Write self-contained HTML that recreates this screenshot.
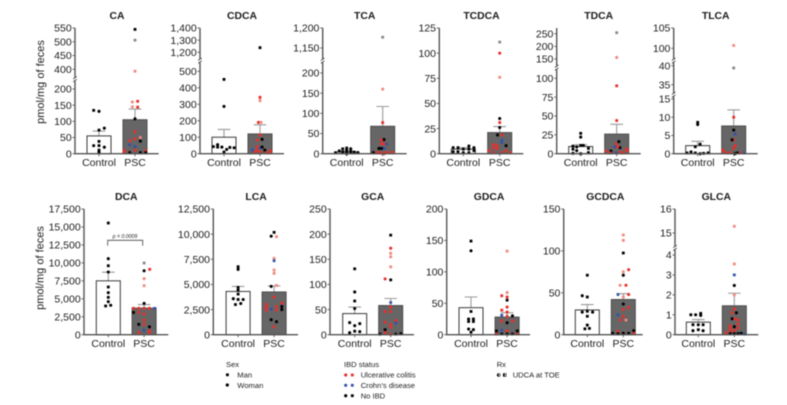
<!DOCTYPE html>
<html lang="en">
<head>
<meta charset="utf-8">
<title>Fecal bile acids by group</title>
<style>
html,body{margin:0;padding:0;background:#fff;}
svg{display:block;filter:blur(0.4px);font-family:"Liberation Sans",Arial,sans-serif;}
text{fill:#1c1c1c;}
</style>
</head>
<body>
<svg id="chart" xmlns="http://www.w3.org/2000/svg" width="787" height="405" viewBox="0 0 787 405">
  <rect x="0" y="0" width="787" height="405" fill="#fff"/>
  <text transform="translate(44,82) rotate(-90)" text-anchor="middle" font-size="11">pmol/mg of feces</text>
  <text transform="translate(43.500,268) rotate(-90)" text-anchor="middle" font-size="11">pmol/mg of feces</text>
  <g id="panels"></g>
  <g>
    <path d="M107.700 245.700V240.300H142.700V245.700" fill="none" stroke="#444" stroke-width="0.8"/>
    <text x="125" y="237.800" text-anchor="middle" font-size="5.200" font-style="italic">p = 0.0009</text>
  </g>
  <g font-size="7.600">
    <g>
      <text x="226" y="367">Sex</text>
      <rect x="226" y="373.400" width="2.800" height="2.800" fill="#000"/>
      <text x="237.300" y="377.500">Man</text>
      <circle cx="227.300" cy="385" r="1.600" fill="#000"/>
      <text x="237.300" y="388">Woman</text>
    </g>
    <g>
      <text x="344" y="367">IBD status</text>
      <circle cx="345.700" cy="375" r="1.600" fill="#e8302c"/>
      <rect x="350.900" y="373.600" width="2.800" height="2.800" fill="#e8302c"/>
      <text x="360.700" y="377.500">Ulcerative colitis</text>
      <circle cx="345.700" cy="385.300" r="1.600" fill="#3553a8"/>
      <rect x="350.900" y="383.900" width="2.800" height="2.800" fill="#3553a8"/>
      <text x="360.700" y="388">Crohn’s disease</text>
      <circle cx="345.700" cy="395.700" r="1.600" fill="#000"/>
      <rect x="350.900" y="394.300" width="2.800" height="2.800" fill="#000"/>
      <text x="360.700" y="398.500">No IBD</text>
    </g>
    <g>
      <text x="496.700" y="367">Rx</text>
      <circle cx="498.700" cy="375" r="1.500" fill="#fff" stroke="#000" stroke-width="0.6"/>
      <path d="M498.700 373.500A1.500 1.500 0 0 0 498.700 376.500Z" fill="#000"/>
      <rect x="503.300" y="373.600" width="2.800" height="2.800" fill="#fff" stroke="#000" stroke-width="0.6"/>
      <rect x="503.300" y="373.600" width="1.400" height="2.800" fill="#000"/>
      <text x="512.700" y="377.500">UDCA at TOE</text>
    </g>
  </g>
</svg>
<script>
// Categories and summary values, one entry per panel in reading order.
const panelTitles = ['CA','CDCA','TCA','TCDCA','TDCA','TLCA','DCA','LCA','GCA','GDCA','GCDCA','GLCA'];
const groupLabels = ['Control','PSC'];
const controlMeans = [55,100,4,4.5,9.5,2.2,7500,4300,42,43,29.5,0.63];
const controlErrors = [70,147,7,6,12,3.4,8700,4800,55,60,36,0.76];
const pscMeans = [105,120,68,21,26,7.6,3700,4250,58,28,42,1.45];
const pscErrors = [138,175,117,27,39,12,4200,4850,72,35,49,2.08];

// Tick labels per panel.
const caTicks = [0,50,100,150,200,400,450,500,550];
const cdcaTicks = [0,100,200,300,400,500,1200,1300,1400];
const tcaTicks = [0,50,100,150,200,1150,1200];
const tcdcaTicks = [0,25,50,75,100,125];
const tdcaTicks = [0,25,50,75,100,150,200,250];
const tlcaTicks = [0,5,10,15,35,40,100,105];
const dcaTicks = [0,2500,5000,7500,10000,12500,15000,17500];
const lcaTicks = [0,2500,5000,7500,10000,12500];
const gcaTicks = [0,50,100,150,200,250];
const gdcaTicks = [0,50,100,150,200];
const gcdcaTicks = [0,50,100,150];
const glcaTicks = [0,1,2,3,4,15,16];

// Individual samples: value, jitter slot, group kind (k/r/b solid; K/R UDCA-treated).
const caControl = [[134,-1,'k'],[131,0,'k'],[73,0,'k'],[79,1,'k'],[38,0,'k'],[25,-1,'k'],[25,0,'k'],[20,1,'k'],[11,0,'k'],[5,0,'k']];
const caPsc = [[545,0,'k'],[506,0,'K'],[393,0,'R'],[160,-.5,'R'],[162,.5,'r'],[145,-.5,'R'],[144,.5,'r'],[108,0,'k'],[68,0,'r'],[46,0,'r'],[50,1,'R'],[40,-1,'r'],[39,1,'k'],[28,-1,'b'],[22,0,'b'],[10,-2,'r'],[3,-2,'r'],[3,-1,'k'],[10,0,'r'],[3,1,'k'],[9,2,'r'],[3,2,'k']];
const cdcaControl = [[451,0,'k'],[287,0,'k'],[43,-2,'k'],[55,-1.2,'k'],[40,-1.2,'k'],[40,-.4,'k'],[10,0,'k'],[26,.5,'k'],[38,1.1,'k'],[36,1.9,'k']];
const cdcaPsc = [[1238,0,'k'],[342,0,'r'],[322,0,'R'],[190,-.3,'r'],[190,.2,'R'],[113,0,'r'],[83,-.5,'r'],[87,.4,'k'],[43,-.5,'r'],[36,0,'b'],[40,.4,'k'],[22,-1.4,'b'],[12,-.9,'r'],[22,-.5,'r'],[10,0,'r'],[22,.9,'k'],[6,1.2,'r'],[6,1.9,'r'],[18,1.9,'r']];
const tcaControl = [[2.5,-2.1,'k'],[7,-1.4,'k'],[12,-.75,'k'],[4,-.75,'k'],[14,0,'k'],[9,0,'k'],[3,0,'k'],[12,.75,'k'],[5,.75,'k'],[0,0,'k'],[4,1.4,'k'],[3,2.1,'k']];
const tcaPsc = [[1177,0,'K'],[160,0,'R'],[77,0,'r'],[35,.25,'k'],[34,-.25,'r'],[25,-.25,'r'],[24,.25,'r'],[13,-.7,'k'],[13,-.2,'k'],[24,.75,'b'],[13,.3,'b'],[2.5,-1.75,'k'],[2.5,-1.1,'r'],[2.5,-.6,'r'],[1,-.2,'r'],[2.5,.6,'r'],[2.5,1.25,'r'],[2.5,2,'r'],[0,.25,'r']];
const tcdcaControl = [[6,-1.9,'k'],[2,-1.9,'k'],[6,-1,'k'],[2,-1,'k'],[4.6,0,'k'],[1,0,'k'],[7.6,1.05,'k'],[4.6,1.05,'k'],[1,1.05,'k'],[6,2,'k'],[3,2,'k']];
const tcdcaPsc = [[111,0,'K'],[100,0,'r'],[76,0,'R'],[35,0,'k'],[31,0,'r'],[26,0,'k'],[18.6,-.4,'k'],[18.6,.4,'r'],[13.6,.4,'b'],[11,.4,'b'],[9,-1.2,'r'],[8,-.5,'r'],[6,-1.2,'r'],[5,-.5,'r'],[8,1.2,'k'],[3,-2,'r'],[1,-1.1,'r'],[1,.4,'r'],[3,1.2,'r'],[1,1.95,'r']];
const tdcaControl = [[27,0,'k'],[22,0,'k'],[10,-1.45,'k'],[6,-1.45,'k'],[.5,-1.45,'k'],[9,-.75,'k'],[11,0,'k'],[11,.5,'k'],[7,1.45,'k'],[1.5,1.45,'k'],[0,0,'k'],[4,-.75,'k']];
const tdcaPsc = [[254,0,'K'],[156,0,'R'],[90,0,'r'],[44,0,'r'],[16,.4,'k'],[13,-.1,'r'],[8,.6,'k'],[9,-.4,'b'],[9,.2,'r'],[3.5,-2,'r'],[3.5,-1.1,'k'],[1,-1.25,'r'],[1,-.1,'b'],[2,.6,'r'],[1,1.25,'r'],[6,1.75,'r'],[4,2,'r']];
const tlcaControl = [[8.6,0,'k'],[8,0,'k'],[1.9,-.45,'k'],[2.6,.45,'k'],[.2,-2,'k'],[.5,-1.25,'k'],[.2,-.45,'k'],[0,.45,'k'],[.1,1.1,'k'],[.2,1.95,'k']];
const tlcaPsc = [[100.7,0,'R'],[39.4,0,'K'],[10,0,'r'],[6.5,0,'k'],[5.4,.25,'b'],[3.8,0,'r'],[3.8,-.3,'k'],[2.2,.3,'r'],[1.5,0,'r'],[1,-2,'r'],[.3,-1.8,'r'],[.2,-1.2,'r'],[.2,-.55,'r'],[0,.25,'k'],[.2,.7,'k'],[.2,1.3,'r'],[.2,1.95,'b']];
const dcaControl = [[15550,0,'k'],[10580,0,'k'],[9600,0,'k'],[8730,0,'k'],[6640,0,'k'],[5850,0,'k'],[5200,0,'k'],[4600,0,'k'],[4000,-.5,'k'],[4100,.45,'k']];
const dcaPsc = [[9980,0,'K'],[8900,0,'k'],[9100,1.05,'r'],[7800,0,'R'],[6820,0,'R'],[4360,0,'k'],[3670,-2,'r'],[3670,-1,'r'],[3670,0,'r'],[3670,1,'r'],[3670,2,'b'],[3100,-1,'r'],[3100,-2,'k'],[2880,0,'r'],[1440,-1,'k'],[2040,0,'r'],[1440,0,'r'],[1100,1,'k'],[600,0,'b'],[550,1,'r'],[280,-1,'r'],[200,1,'r']];
const lcaControl = [[6760,0,'k'],[6500,0,'k'],[4700,0,'k'],[4440,0,'k'],[4040,0,'k'],[3580,-.9,'k'],[3500,0,'k'],[3500,.95,'k'],[3000,-.5,'k'],[3100,.5,'k']];
const lcaPsc = [[10180,0,'k'],[9800,-.55,'k'],[9750,.45,'R'],[7600,0,'R'],[7360,0,'b'],[6430,0,'R'],[6100,0,'R'],[4800,-.55,'k'],[4900,.45,'R'],[3750,0,'r'],[3000,-1.45,'r'],[2700,-1.45,'r'],[2450,-1.45,'r'],[2550,-.55,'b'],[2800,.45,'r'],[2450,.45,'r'],[3150,1.45,'r'],[2800,1.45,'k'],[2500,1.45,'k'],[1490,-.55,'k'],[1290,.45,'k'],[800,0,'r']];
const gcaControl = [[131,0,'k'],[85,0,'k'],[67,0,'k'],[52,0,'k'],[24,-.95,'k'],[18,0,'k'],[22,.95,'k'],[4,-.95,'k'],[7,0,'k'],[6,.95,'k']];
const gcaPsc = [[198,0,'k'],[172,0,'r'],[162,0,'R'],[155,0,'R'],[135,0,'R'],[111,-1.05,'r'],[109,0,'k'],[64,0,'b'],[55,0,'r'],[46,-1.05,'r'],[46,0,'r'],[25,-1.05,'r'],[28,.95,'r'],[23,.95,'b'],[20,0,'r'],[15,0,'r'],[10,-1.05,'k'],[4,-1.05,'r'],[1,-2,'k'],[1,0,'r'],[1,.95,'k'],[2,1.9,'k']];
const gdcaControl = [[149,0,'k'],[133.500,0,'k'],[37,0,'k'],[25,-.45,'k'],[25,.45,'k'],[21,-.45,'k'],[21,.45,'k'],[9,-.45,'k'],[8,.45,'k'],[4,0,'k']];
const gdcaPsc = [[133,0,'R'],[67,0,'R'],[62,-1,'r'],[60,0,'r'],[55,0,'k'],[44,0,'r'],[39,-1,'r'],[36,0,'r'],[31,-1,'b'],[30,1,'k'],[29,0,'r'],[19,0,'k'],[22,-1,'r'],[22,1,'r'],[7,-1,'b'],[6,0,'r'],[6,-2,'k'],[1,-2,'r'],[1,-1,'k'],[1,0,'k'],[1,1,'k'],[6,1.9,'k'],[1,1.9,'r']];
const gcdcaControl = [[71,0,'k'],[46.500,-.95,'k'],[45,0,'k'],[27,-.95,'k'],[22,0,'k'],[27,1,'k'],[28,0,'k'],[11.500,0,'k'],[7,-.45,'k'],[7.500,.4,'k']];
const gcdcaPsc = [[119,0,'R'],[112.600,0,'R'],[97.500,0,'k'],[77.600,1,'r'],[75,0,'R'],[71,0,'k'],[59,-.6,'R'],[59,.5,'r'],[48,-1,'b'],[48,1,'r'],[45,0,'R'],[36.600,0,'k'],[32.600,1,'r'],[30,0,'r'],[23.500,-1,'b'],[22,0,'r'],[17.500,-.5,'r'],[17.500,.5,'R'],[4,-1,'r'],[1.600,-2,'k'],[1,-1,'k'],[1.600,0,'k'],[1.600,1,'k'],[4.800,1.95,'k'],[1.600,1.95,'r']];
const glcaControl = [[1,-1.4,'k'],[1,-.5,'k'],[1.07,.45,'k'],[.97,.45,'k'],[.5,-1,'k'],[.5,0,'k'],[.5,.9,'k'],[.2,-1,'k'],[.25,0,'k'],[.2,.9,'k']];
const glcaPsc = [[15.28,0,'R'],[3.55,0,'R'],[3,0,'b'],[2.47,0,'k'],[2,0,'R'],[1.3,0,'r'],[1.1,-.4,'r'],[1.1,.4,'k'],[.8,-.4,'k'],[.8,.1,'r'],[.45,-.75,'r'],[.4,0,'k'],[.73,.7,'r'],[.53,.7,'r'],[.33,.7,'r'],[.32,-.75,'r'],[.2,-.75,'r'],[.2,0,'r'],[.1,-1.5,'r'],[.05,-.75,'k'],[.05,0,'k'],[.05,.7,'k'],[.07,1.3,'k'],[.03,1.95,'b']];

const controlPoints = [caControl,cdcaControl,tcaControl,tcdcaControl,tdcaControl,tlcaControl,dcaControl,lcaControl,gcaControl,gdcaControl,gcdcaControl,glcaControl];
const pscPoints = [caPsc,cdcaPsc,tcaPsc,tcdcaPsc,tdcaPsc,tlcaPsc,dcaPsc,lcaPsc,gcaPsc,gdcaPsc,gcdcaPsc,glcaPsc];
const panelTicks = [caTicks,cdcaTicks,tcaTicks,tcdcaTicks,tdcaTicks,tlcaTicks,dcaTicks,lcaTicks,gcaTicks,gdcaTicks,gcdcaTicks,glcaTicks];

// Layout for each panel: axis position, bar centres, and y-axis segments split by breaks.
const TOP_BASE = 153.7, BOT_BASE = 334.7, TOP_Y = 28, BOT_Y = 209;
const layouts = [
  {axis:75,  c1:99,   c2:135,   end:158.7, base:TOP_BASE, top:TOP_Y, segs:[{d:[0,200],p:[TOP_BASE,89],to:81},{d:[400,550],p:[69.3,TOP_Y],from:78}]},
  {axis:200, c1:224,  c2:260,   end:284,   base:TOP_BASE, top:TOP_Y, segs:[{d:[0,500],p:[TOP_BASE,71.3],to:62.500},{d:[1200,1400],p:[52.3,TOP_Y],from:59.500}]},
  {axis:322.7,c1:346.7,c2:382.7,end:406.7, base:TOP_BASE, top:TOP_Y, segs:[{d:[0,200],p:[TOP_BASE,73],to:62.500},{d:[1150,1200],p:[48,TOP_Y],from:59.500}]},
  {axis:439.3,c1:463.3,c2:499.7,end:523.3, base:TOP_BASE, top:TOP_Y, segs:[{d:[0,125],p:[TOP_BASE,TOP_Y]}]},
  {axis:556.7,c1:580.7,c2:616.7,end:640.7, base:TOP_BASE, top:TOP_Y, segs:[{d:[0,100],p:[TOP_BASE,78.3],to:69.500},{d:[150,250],p:[59,33.7],from:66.500}]},
  {axis:673.7,c1:697.7,c2:733.7,end:757.7, base:TOP_BASE, top:TOP_Y, segs:[{d:[0,15],p:[TOP_BASE,99],to:96.500},{d:[35,40],p:[84.7,65.7],to:62.500,from:93.500},{d:[100,105],p:[48.3,TOP_Y],from:59.500}]},
  {axis:84,  c1:108.3,c2:144.1, end:168.3, base:BOT_BASE, top:BOT_Y, segs:[{d:[0,17500],p:[BOT_BASE,BOT_Y]}]},
  {axis:213.3,c1:238.1,c2:274.1,end:298,   base:BOT_BASE, top:BOT_Y, segs:[{d:[0,12500],p:[BOT_BASE,BOT_Y]}]},
  {axis:330, c1:354.7,c2:390.7, end:414,   base:BOT_BASE, top:BOT_Y, segs:[{d:[0,250],p:[BOT_BASE,BOT_Y]}]},
  {axis:446.7,c1:471, c2:507.1, end:530,   base:BOT_BASE, top:BOT_Y, segs:[{d:[0,200],p:[BOT_BASE,BOT_Y]}]},
  {axis:563.7,c1:587.3,c2:623.3,end:642.7, base:BOT_BASE, top:BOT_Y, segs:[{d:[0,150],p:[BOT_BASE,BOT_Y]}]},
  {axis:675, c1:698.3,c2:734.3, end:758.3, base:BOT_BASE, top:BOT_Y, segs:[{d:[0,4],p:[BOT_BASE,255],to:249.800},{d:[15,16],p:[233,BOT_Y],from:246.800}]}
];

const SVG_NS = 'http://www.w3.org/2000/svg';
const BAR_HALF = 12, SLOT = 5.33, AXIS = '#555555', WHISKER = '#9a9a9a';
const KIND_FILL = {k:'#000000', r:'#e8302c', b:'#3553a8', K:'#8a8a8a', R:'#f08a80'};

function mk(tag, attrs, parent, text) {
  const el = document.createElementNS(SVG_NS, tag);
  for (const key in attrs) el.setAttribute(key, attrs[key]);
  if (text !== undefined) el.textContent = text;
  parent.appendChild(el);
  return el;
}

function yScale(layout) {
  return function (v) {
    let seg = layout.segs[layout.segs.length - 1];
    for (const s of layout.segs) { if (v <= s.d[1]) { seg = s; break; } }
    return seg.p[0] + (v - seg.d[0]) * (seg.p[1] - seg.p[0]) / (seg.d[1] - seg.d[0]);
  };
}

function drawGroup(g, layout, y, cx, mean, err, pts, isPsc) {
  const whisker = mk('path', {d:'M'+cx+' '+y(mean)+'V'+y(err)+'M'+(cx-6.300)+' '+y(err)+'H'+(cx+6.300), stroke:WHISKER, 'stroke-width':1.100, fill:'none'}, g);
  
  

  const bar = mk('rect', {x:cx-BAR_HALF, y:y(mean), width:BAR_HALF*2, height:layout.base-y(mean), fill:isPsc?'#666666':'#ffffff', stroke:isPsc?'#4d4d4d':'#3a3a3a', 'stroke-width':1}, g);
  
  

  pts.forEach(function (pt, i) {
    const px = cx + pt[1] * SLOT, py = y(pt[0]);
    const mark = i % 2
      ? mk('circle', {cx:px, cy:py, r:1.550, fill:KIND_FILL[pt[2]]}, g)
      : mk('rect', {x:px-1.400, y:py-1.400, width:2.800, height:2.800, fill:KIND_FILL[pt[2]]}, g);
    
    
  });

  const tick = mk('line', {x1:cx, x2:cx, y1:layout.base, y2:layout.base+2.500, stroke:AXIS, 'stroke-width':0.900}, g);
  
  

  const label = mk('text', {x:cx, y:layout.base+12.300, 'text-anchor':'middle', 'font-size':10.500}, g, groupLabels[isPsc ? 1 : 0]);
  
  
}

const root = document.getElementById('panels');
layouts.forEach(function (layout, i) {
  const y = yScale(layout);
  const g = mk('g', {}, root);
  
  

  const title = mk('text', {x:(layout.c1+layout.c2)/2, y:layout.top-9, 'text-anchor':'middle', 'font-size':10.400, 'font-weight':'bold'}, g, panelTitles[i]);
  
  

  drawGroup(g, layout, y, layout.c1, controlMeans[i], controlErrors[i], controlPoints[i], false);
  drawGroup(g, layout, y, layout.c2, pscMeans[i], pscErrors[i], pscPoints[i], true);

  layout.segs.forEach(function (seg, s) {
    const yA = s === 0 ? layout.base : seg.from;
    const yB = s === layout.segs.length - 1 ? layout.top : seg.to;
    const axisLine = mk('line', {x1:layout.axis, x2:layout.axis, y1:yA, y2:yB, stroke:AXIS, 'stroke-width':1.400}, g);
    
    
    if (s < layout.segs.length - 1) {
      const slash = mk('path', {d:'M'+(layout.axis-1.800)+' '+(yB+0.800)+'L'+(layout.axis+1.800)+' '+(yB-1.800)+'M'+(layout.axis-1.800)+' '+(yB-2.000)+'L'+(layout.axis+1.800)+' '+(yB-4.600), stroke:'#333', 'stroke-width':0.800, fill:'none'}, g);
      
      
    }
  });

  const xAxis = mk('line', {x1:layout.axis-0.700, x2:layout.end, y1:layout.base, y2:layout.base, stroke:AXIS, 'stroke-width':1.400}, g);
  
  

  panelTicks[i].forEach(function (t) {
    const ty = y(t);
    const tick = mk('line', {x1:layout.axis-2.500, x2:layout.axis, y1:ty, y2:ty, stroke:AXIS, 'stroke-width':0.900}, g);
    
    
    const label = mk('text', {x:layout.axis-3.300, y:ty+3.700, 'text-anchor':'end', 'font-size':10.500}, g, t.toLocaleString('en-US'));
    
    
  });
});
</script>
</body>
</html>
